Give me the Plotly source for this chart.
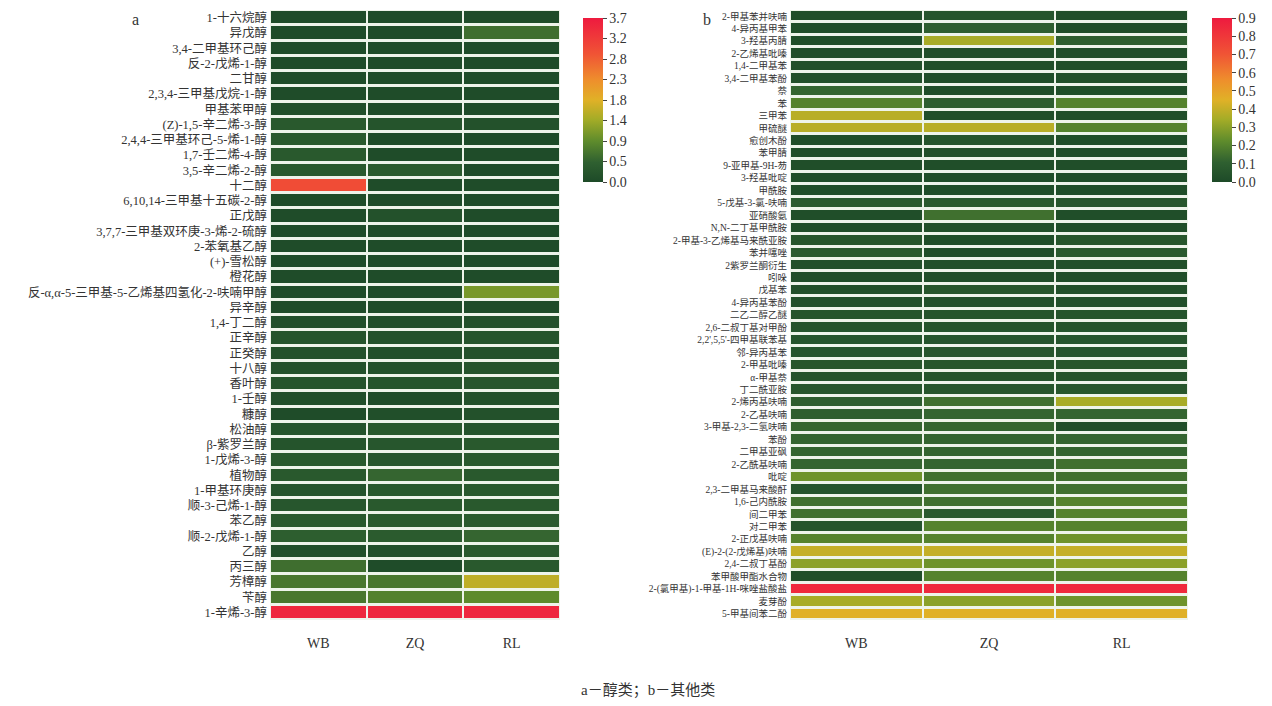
import plotly.graph_objects as go

cols = ["WB", "ZQ", "RL"]

alc_names = [
    "1-十六烷醇", "异戊醇", "3,4-二甲基环己醇", "反-2-戊烯-1-醇", "二甘醇",
    "2,3,4-三甲基戊烷-1-醇", "甲基苯甲醇", "(Z)-1,5-辛二烯-3-醇", "2,4,4-三甲基环己-5-烯-1-醇",
    "1,7-壬二烯-4-醇", "3,5-辛二烯-2-醇", "十二醇", "6,10,14-三甲基十五碳-2-醇", "正戊醇",
    "3,7,7-三甲基双环庚-3-烯-2-硫醇", "2-苯氧基乙醇", "(+)-雪松醇", "橙花醇",
    "反-α,α-5-三甲基-5-乙烯基四氢化-2-呋喃甲醇", "异辛醇", "1,4-丁二醇", "正辛醇", "正癸醇",
    "十八醇", "香叶醇", "1-壬醇", "糠醇", "松油醇", "β-紫罗兰醇", "1-戊烯-3-醇", "植物醇",
    "1-甲基环庚醇", "顺-3-己烯-1-醇", "苯乙醇", "顺-2-戊烯-1-醇", "乙醇", "丙三醇", "芳樟醇",
    "苄醇", "1-辛烯-3-醇",
]
alc_WB = [0.05, 0.05, 0.05, 0.05, 0.05, 0.05, 0.10, 0.30, 0.30, 0.30, 0.30, 3.00, 0.05, 0.05,
          0.05, 0.05, 0.05, 0.05, 0.05, 0.05, 0.10, 0.20, 0.15, 0.15, 0.20, 0.10, 0.05, 0.20,
          0.20, 0.30, 0.30, 0.20, 0.25, 0.30, 0.40, 0.10, 0.60, 0.70, 0.70, 3.50]
alc_ZQ = [0.05, 0.05, 0.05, 0.05, 0.05, 0.05, 0.05, 0.20, 0.05, 0.05, 0.35, 0.05, 0.05, 0.15,
          0.05, 0.05, 0.05, 0.05, 0.05, 0.05, 0.10, 0.15, 0.10, 0.15, 0.20, 0.05, 0.10, 0.30,
          0.25, 0.25, 0.50, 0.30, 0.30, 0.35, 0.35, 0.10, 0.05, 0.70, 0.80, 3.50]
alc_RL = [0.05, 0.60, 0.05, 0.05, 0.05, 0.05, 0.05, 0.15, 0.05, 0.05, 0.05, 0.05, 0.05, 0.05,
          0.05, 0.05, 0.05, 0.05, 1.10, 0.05, 0.15, 0.20, 0.15, 0.20, 0.25, 0.15, 0.15, 0.20,
          0.30, 0.30, 0.30, 0.30, 0.30, 0.35, 0.50, 0.30, 0.30, 1.60, 0.90, 3.50]

oth_names = [
    "2-甲基苯并呋喃", "4-异丙基甲苯", "3-羟基丙腈", "2-乙烯基吡嗪", "1,4-二甲基苯", "3,4-二甲基苯酚",
    "萘", "苯", "三甲苯", "甲硫醚", "愈创木酚", "苯甲腈", "9-亚甲基-9H-芴", "3-羟基吡啶", "甲酰胺",
    "5-戊基-3-氯-呋喃", "亚硝酸氨", "N,N-二丁基甲酰胺", "2-甲基-3-乙烯基马来酰亚胺", "苯并噻唑",
    "2紫罗兰酮衍生", "吲哚", "戊基苯", "4-异丙基苯酚", "二乙二醇乙醚", "2,6-二叔丁基对甲酚",
    "2,2',5,5'-四甲基联苯基", "邻-异丙基苯", "2-甲基吡嗪", "α-甲基萘", "丁二酰亚胺", "2-烯丙基呋喃",
    "2-乙基呋喃", "3-甲基-2,3-二氢呋喃", "苯酚", "二甲基亚砜", "2-乙酰基呋喃", "吡啶",
    "2,3-二甲基马来酸酐", "1,6-己内酰胺", "间二甲苯", "对二甲苯", "2-正戊基呋喃",
    "(E)-2-(2-戊烯基)呋喃", "2,4-二叔丁基酚", "苯甲酸甲酯水合物", "2-(氯甲基)-1-甲基-1H-咪唑盐酸盐",
    "麦芽酚", "5-甲基间苯二酚",
]
oth_WB = [0.02, 0.02, 0.02, 0.02, 0.03, 0.03, 0.12, 0.20, 0.38, 0.38, 0.02, 0.02, 0.02, 0.02,
          0.02, 0.08, 0.02, 0.02, 0.06, 0.08, 0.03, 0.02, 0.03, 0.03, 0.05, 0.05, 0.05, 0.05,
          0.06, 0.05, 0.06, 0.10, 0.10, 0.12, 0.12, 0.12, 0.12, 0.25, 0.05, 0.15, 0.15, 0.05,
          0.20, 0.40, 0.30, 0.02, 0.85, 0.35, 0.45]
oth_ZQ = [0.05, 0.10, 0.35, 0.02, 0.02, 0.02, 0.02, 0.10, 0.02, 0.38, 0.05, 0.03, 0.02, 0.02,
          0.02, 0.08, 0.15, 0.03, 0.02, 0.02, 0.03, 0.02, 0.06, 0.03, 0.05, 0.05, 0.05, 0.06,
          0.06, 0.05, 0.06, 0.15, 0.12, 0.12, 0.12, 0.12, 0.12, 0.15, 0.15, 0.15, 0.08, 0.20,
          0.20, 0.40, 0.25, 0.20, 0.85, 0.30, 0.45]
oth_RL = [0.02, 0.02, 0.10, 0.02, 0.02, 0.03, 0.02, 0.20, 0.02, 0.20, 0.02, 0.02, 0.02, 0.02,
          0.02, 0.06, 0.02, 0.02, 0.06, 0.08, 0.03, 0.02, 0.03, 0.03, 0.05, 0.05, 0.05, 0.05,
          0.06, 0.05, 0.06, 0.35, 0.12, 0.02, 0.12, 0.12, 0.15, 0.15, 0.15, 0.20, 0.20, 0.20,
          0.25, 0.40, 0.30, 0.20, 0.85, 0.25, 0.45]

alc_ticks = [0.0, 0.4625, 0.925, 1.3875, 1.85, 2.3125, 2.775, 3.2375, 3.699]
alc_ticktext = ["0.0", "0.5", "0.9", "1.4", "1.8", "2.3", "2.8", "3.2", "3.7"]
oth_ticks = [0.0, 0.1, 0.2, 0.3, 0.4, 0.5, 0.6, 0.7, 0.8, 0.8999]
oth_ticktext = ["0.0", "0.1", "0.2", "0.3", "0.4", "0.5", "0.6", "0.7", "0.8", "0.9"]

cscale = [
    [0.0, "#1d4a28"], [0.12, "#2f6030"], [0.25, "#5f8c2c"], [0.38, "#a3ac27"],
    [0.5, "#e0b127"], [0.62, "#ee8f2c"], [0.78, "#f05435"], [1.0, "#ee1a3f"],
]

SERIF = "Liberation Serif, Noto Sans CJK SC, serif"
W, H = 1272, 706
OFF = 8  # page body margin offset


def px_x(v):
    return (v - OFF) / W


def px_y(v):
    return 1 - (v - OFF) / H


def z_of(a, b, c):
    return [[a[i], b[i], c[i]] for i in range(len(a))]


def cbar(x0, y0, length, vals, text):
    return dict(x=px_x(x0), xanchor="left", xpad=0, ypad=0, y=px_y(y0), yanchor="top",
                len=length, lenmode="pixels", thickness=20, tickvals=vals, ticktext=text,
                ticks="outside", ticklen=4, tickcolor="#444", outlinewidth=0,
                ticklabeloverflow="allow",
                tickfont=dict(family=SERIF, size=14, color="#333"))


fig = go.Figure()
fig.add_trace(go.Heatmap(
    z=z_of(alc_WB, alc_ZQ, alc_RL), x=cols, y=alc_names, zmin=0, zmax=3.7,
    colorscale=cscale, xgap=2, ygap=3, xaxis="x", yaxis="y",
    colorbar=cbar(583, 18, 164, alc_ticks, alc_ticktext),
))
fig.add_trace(go.Heatmap(
    z=z_of(oth_WB, oth_ZQ, oth_RL), x=cols, y=oth_names, zmin=0, zmax=0.9,
    colorscale=cscale, xgap=2, ygap=3, xaxis="x2", yaxis="y2",
    colorbar=cbar(1212, 18, 164, oth_ticks, oth_ticktext),
))

axis_common = dict(showgrid=False, zeroline=False, showline=False, ticks="")
fig.update_layout(
    width=W, height=H, margin=dict(l=0, r=0, t=0, b=0, autoexpand=False),
    paper_bgcolor="white", plot_bgcolor="#eef4ea",
    font=dict(family=SERIF, color="#333"),
    xaxis=dict(domain=[px_x(270), px_x(560)], anchor="y", tickfont=dict(size=14),
               ticklabelstandoff=13, **axis_common),
    yaxis=dict(domain=[px_y(620), px_y(10)], anchor="x", autorange="reversed",
               tickmode="array", tickvals=alc_names, ticktext=alc_names,
               tickfont=dict(size=12.5), ticklabelstandoff=2, **axis_common),
    xaxis2=dict(domain=[px_x(790), px_x(1188)], anchor="y2", tickfont=dict(size=14),
                ticklabelstandoff=13, **axis_common),
    yaxis2=dict(domain=[px_y(620), px_y(10)], anchor="x2", autorange="reversed",
                tickmode="array", tickvals=oth_names, ticktext=oth_names,
                tickfont=dict(size=9.5), ticklabelstandoff=2, **axis_common),
    showlegend=False,
)
fig.add_annotation(text="a", x=px_x(135), y=px_y(20), xref="paper", yref="paper", showarrow=False,
                   xanchor="center", yanchor="middle", font=dict(size=16, family=SERIF))
fig.add_annotation(text="b", x=px_x(707), y=px_y(20), xref="paper", yref="paper", showarrow=False,
                   xanchor="center", yanchor="middle", font=dict(size=16, family=SERIF))
fig.add_annotation(text="a－醇类；b－其他类", x=px_x(648), y=px_y(690), xref="paper", yref="paper",
                   showarrow=False, xanchor="center", yanchor="middle", font=dict(size=15, family=SERIF))

fig.write_html("out.html")
